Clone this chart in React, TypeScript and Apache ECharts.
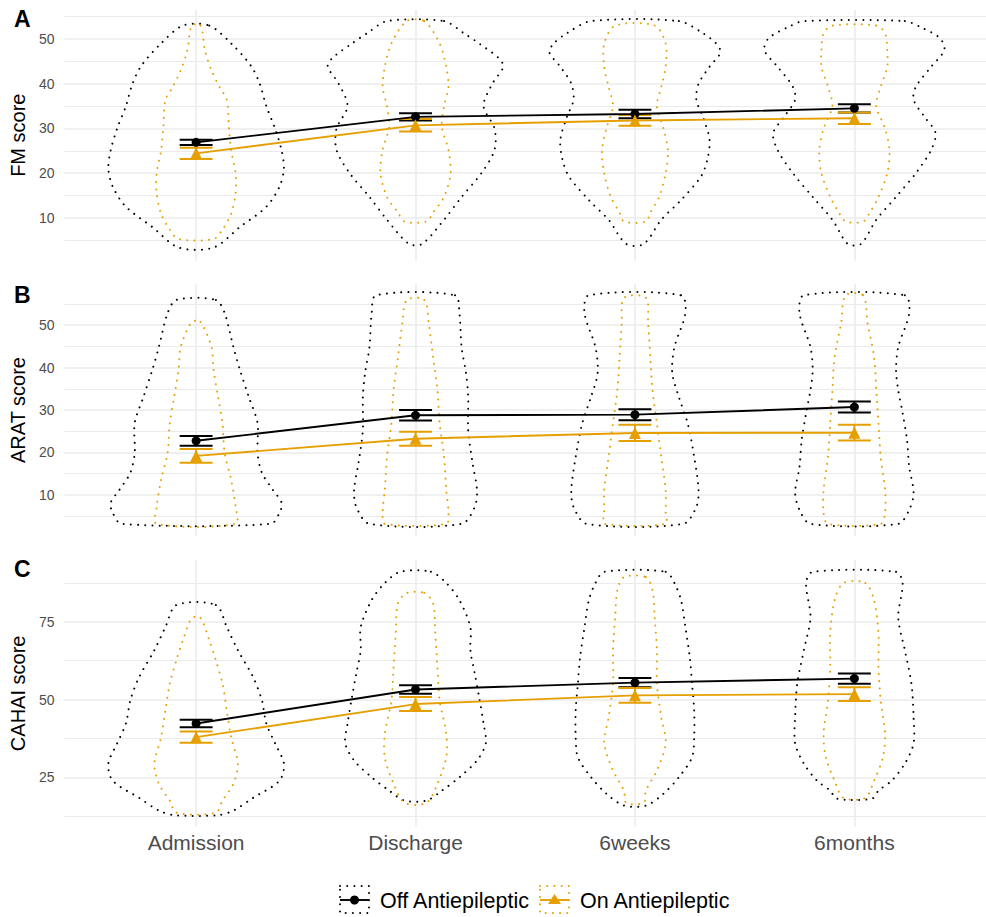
import React, { useEffect, useRef } from "react";
import * as echarts from "echarts";

// ---------- data ----------
const timepoints = ["Admission", "Discharge", "6weeks", "6months"];
const groupNames = ["Off Antiepileptic", "On Antiepileptic"];

// means and standard errors
const fmOffMean = [26.9, 32.6, 33.25, 34.5];
const fmOffSE = [0.6, 0.8, 0.95, 0.9];
const fmOnMean = [24.45, 30.7, 31.8, 32.3];
const fmOnSE = [1.25, 1.4, 1.2, 1.3];

const aratOffMean = [22.75, 28.75, 28.9, 30.7];
const aratOffSE = [1.15, 1.25, 1.3, 1.3];
const aratOnMean = [19.2, 23.25, 24.6, 24.65];
const aratOnSE = [1.6, 1.65, 1.9, 1.85];

const cahaiOffMean = [42.3, 53.25, 55.45, 56.75];
const cahaiOffSE = [1.2, 1.35, 1.45, 1.65];
const cahaiOnMean = [37.9, 48.55, 51.35, 51.75];
const cahaiOnSE = [1.8, 2.25, 2.35, 2.25];

// violin profiles: [score, half-width in category units], top to bottom
const fmViolinOff = [
  [[53, 0.06], [49, 0.16], [44, 0.25], [40, 0.29], [35, 0.32], [30, 0.36], [25, 0.39], [21, 0.4], [17, 0.38], [12.5, 0.32], [8, 0.2], [3.4, 0.08]],
  [[54, 0.13], [51.3, 0.22], [49, 0.29], [45.7, 0.38], [43.8, 0.4], [40, 0.35], [35, 0.31], [30, 0.36], [25.2, 0.36], [20, 0.3], [14.7, 0.21], [9.6, 0.13], [4.2, 0.03]],
  [[54, 0.2], [51.3, 0.31], [49, 0.37], [47, 0.39], [43.8, 0.34], [40, 0.29], [36.4, 0.28], [32.6, 0.31], [27.5, 0.34], [23, 0.33], [19.2, 0.3], [14, 0.21], [9.6, 0.12], [4.2, 0.04]],
  [[54, 0.23], [52.7, 0.3], [50.2, 0.39], [47.5, 0.41], [43.8, 0.35], [39.3, 0.28], [36.4, 0.27], [32.6, 0.32], [29, 0.37], [25.2, 0.35], [20, 0.28], [14.7, 0.19], [9.6, 0.1], [4.2, 0.03]],
];
const fmViolinOn = [
  [[53, 0.02], [47.5, 0.04], [43, 0.07], [39, 0.11], [36.4, 0.14], [30, 0.15], [25, 0.16], [20, 0.18], [15.6, 0.18], [11, 0.16], [7.4, 0.12], [5.3, 0.08]],
  [[54, 0.04], [49, 0.11], [43.8, 0.14], [39.3, 0.15], [35, 0.13], [30.4, 0.12], [25.2, 0.15], [20, 0.16], [14.7, 0.13], [11.2, 0.08], [9.2, 0.05]],
  [[53, 0.09], [49, 0.14], [43.8, 0.14], [39.3, 0.12], [35, 0.1], [30, 0.13], [25.2, 0.15], [20, 0.14], [14.7, 0.11], [11.2, 0.07], [9.2, 0.05]],
  [[53, 0.1], [51.3, 0.14], [47.5, 0.15], [43.8, 0.15], [39.3, 0.12], [35, 0.1], [30, 0.14], [25.2, 0.16], [20, 0.15], [14.7, 0.11], [11.2, 0.07], [9.2, 0.04]],
];

const aratViolinOff = [
  [[55.9, 0.09], [52.8, 0.13], [44.8, 0.17], [39.4, 0.2], [33.1, 0.24], [26.9, 0.28], [19.9, 0.28], [15.2, 0.3], [11.2, 0.35], [8.1, 0.39], [5.8, 0.38], [3.2, 0.34]],
  [[57, 0.18], [52.8, 0.2], [44.8, 0.21], [38.7, 0.23], [33.1, 0.24], [25.3, 0.24], [17.5, 0.26], [11.2, 0.28], [7.2, 0.27], [3.2, 0.21]],
  [[57, 0.21], [52.8, 0.23], [44.8, 0.18], [38.7, 0.17], [33.1, 0.2], [26.9, 0.24], [19, 0.27], [11.2, 0.29], [7.2, 0.28], [3.2, 0.22]],
  [[57, 0.23], [52.8, 0.25], [44.8, 0.2], [39.4, 0.19], [34.7, 0.2], [29.3, 0.22], [23, 0.24], [16.6, 0.25], [10.5, 0.27], [6.5, 0.25], [3.2, 0.2]],
];
const aratViolinOn = [
  [[50.7, 0.02], [44.8, 0.07], [39.4, 0.08], [33.1, 0.1], [26.9, 0.12], [19.9, 0.13], [13.5, 0.16], [7.2, 0.18], [3.2, 0.18]],
  [[55.9, 0.04], [50.5, 0.06], [42.5, 0.08], [34.7, 0.1], [26.9, 0.11], [19, 0.13], [11.2, 0.14], [5.8, 0.15], [3.2, 0.14]],
  [[56.4, 0.05], [50.5, 0.06], [42.5, 0.07], [34.7, 0.08], [26.9, 0.1], [19, 0.12], [11.2, 0.14], [5.8, 0.14], [3.2, 0.14]],
  [[57, 0.04], [50.5, 0.06], [42.5, 0.09], [34.7, 0.1], [26.9, 0.11], [19, 0.12], [11.2, 0.14], [5.8, 0.14], [3.2, 0.12]],
];

const cahaiViolinOff = [
  [[80.4, 0.09], [73.3, 0.14], [65.9, 0.19], [57.2, 0.26], [49.7, 0.3], [42.3, 0.32], [35.9, 0.36], [29.4, 0.4], [23.9, 0.38], [18.4, 0.26], [14.3, 0.17], [12.8, 0.1]],
  [[91.1, 0.07], [87.5, 0.14], [82, 0.2], [73.3, 0.25], [65.9, 0.25], [58.4, 0.27], [50.7, 0.29], [42.3, 0.31], [35.9, 0.32], [30.4, 0.28], [25, 0.2], [20.7, 0.12], [17.5, 0.05]],
  [[91.1, 0.14], [87.5, 0.18], [82, 0.21], [73.3, 0.23], [63.6, 0.25], [55.2, 0.26], [46.5, 0.27], [37.8, 0.27], [31.4, 0.26], [25, 0.2], [19.7, 0.13], [15.9, 0.05]],
  [[91.1, 0.19], [87.5, 0.22], [76.5, 0.2], [65.9, 0.23], [55.2, 0.26], [44.3, 0.27], [35.9, 0.27], [29.4, 0.23], [23.9, 0.17], [20.7, 0.11], [18.1, 0.08]],
];
const cahaiViolinOn = [
  [[76.2, 0.02], [69.1, 0.06], [62.6, 0.09], [55.2, 0.12], [46.5, 0.14], [37.8, 0.16], [29.4, 0.19], [22.9, 0.17], [17.5, 0.12], [13.6, 0.09]],
  [[84.3, 0.04], [81, 0.08], [71.3, 0.09], [60.4, 0.1], [49.7, 0.11], [39, 0.14], [31.4, 0.14], [22.9, 0.1], [16.8, 0.05]],
  [[89.4, 0.05], [85.2, 0.08], [76.5, 0.09], [65.9, 0.1], [55.2, 0.1], [44.3, 0.12], [35.9, 0.14], [27.2, 0.1], [20.7, 0.05], [16.8, 0.04]],
  [[87.5, 0.05], [82, 0.09], [71.3, 0.11], [60.4, 0.11], [49.7, 0.12], [39, 0.14], [31.4, 0.13], [23.9, 0.09], [18.4, 0.05]],
];

// axis ticks
const fmTicks = [10, 20, 30, 40, 50];
const fmMinorTicks = [5, 15, 25, 35, 45, 55];
const aratTicks = [10, 20, 30, 40, 50];
const aratMinorTicks = [5, 15, 25, 35, 45, 55];
const cahaiTicks = [25, 50, 75];
const cahaiMinorTicks = [12.5, 37.5, 62.5, 87.5];

// ---------- styling / layout ----------
const FONT = "'Liberation Sans', Arial, Helvetica, sans-serif";
const OFF_COLOR = "#000000";
const ON_COLOR = "#E69F00";
const GRID_COLOR = "#ebebeb";
const CAP_HALF = 0.075;

const panels = [
  {
    tag: "A", title: "FM score", top: 9.7, height: 251, min: 0.45, max: 56.55,
    ticks: fmTicks, minor: fmMinorTicks,
    violins: [fmViolinOff, fmViolinOn],
    means: [fmOffMean, fmOnMean], se: [fmOffSE, fmOnSE], tagY: 18.5,
  },
  {
    tag: "B", title: "ARAT score", top: 283.8, height: 252.4, min: 0.3, max: 59.7,
    ticks: aratTicks, minor: aratMinorTicks,
    violins: [aratViolinOff, aratViolinOn],
    means: [aratOffMean, aratOnMean], se: [aratOffSE, aratOnSE], tagY: 294.5,
  },
  {
    tag: "C", title: "CAHAI score", top: 560, height: 266.7, min: 9.1, max: 94.9,
    ticks: cahaiTicks, minor: cahaiMinorTicks,
    violins: [cahaiViolinOff, cahaiViolinOn],
    means: [cahaiOffMean, cahaiOnMean], se: [cahaiOffSE, cahaiOnSE], tagY: 568.5,
  },
];

const colors = [OFF_COLOR, ON_COLOR];
const xPositions = [1, 2, 3, 4];

function dotted(color: string) {
  return {
    fill: "none",
    stroke: color,
    lineWidth: 2,
    lineDash: [0.01, 7.2],
    lineCap: "round",
  };
}

function buildOption() {
  const grid: any[] = [];
  const xAxis: any[] = [];
  const yAxis: any[] = [];
  const series: any[] = [];

  panels.forEach((p, pi) => {
    grid.push({ left: 63, width: 932, top: p.top, height: p.height });
    xAxis.push({
      gridIndex: pi,
      type: "value",
      min: 0.4,
      max: 4.6,
      axisLine: { show: false },
      axisTick: { show: false, customValues: xPositions },
      axisLabel:
        pi === 2
          ? {
              show: true,
              customValues: xPositions,
              formatter: (v: number) => timepoints[Math.round(v) - 1] ?? "",
              fontSize: 21,
              color: "#4d4d4d",
              fontFamily: FONT,
              margin: 5,
            }
          : { show: false },
      splitLine: { show: true, lineStyle: { color: GRID_COLOR, width: 1.6 } },
    });
    yAxis.push({
      gridIndex: pi,
      type: "value",
      position: "left",
      min: p.min,
      max: p.max,
      axisLine: { show: false },
      axisTick: { show: false, customValues: p.ticks },
      axisLabel: {
        customValues: p.ticks,
        fontSize: 14,
        color: "#4d4d4d",
        fontFamily: FONT,
        margin: 10,
      },
      splitLine: { show: true, lineStyle: { color: GRID_COLOR, width: 1.6 } },
      name: p.title,
      nameLocation: "middle",
      nameGap: 29,
      nameRotate: 90,
      nameTextStyle: { fontSize: 20, color: "#000", fontFamily: FONT },
    });
    yAxis.push({
      gridIndex: pi,
      type: "value",
      position: "right",
      min: p.min,
      max: p.max,
      axisLine: { show: false },
      axisTick: { show: false, customValues: p.minor },
      axisLabel: { show: false },
      splitLine: { show: true, lineStyle: { color: GRID_COLOR, width: 1 } },
    });

    const yIdx = pi * 2;

    // violins
    [0, 1].forEach((gi) => {
      const profiles = p.violins[gi];
      series.push({
        type: "custom",
        name: groupNames[gi],
        xAxisIndex: pi,
        yAxisIndex: yIdx,
        silent: true,
        z: 2,
        data: profiles.map((prof: number[][], i: number) => [xPositions[i], prof[0][0]]),
        renderItem: (params: any, api: any) => {
          const i = params.dataIndex;
          const x = xPositions[i];
          const prof = profiles[i];
          const pts: number[][] = [];
          for (let k = 0; k < prof.length; k++) pts.push(api.coord([x + prof[k][1], prof[k][0]]));
          for (let k = prof.length - 1; k >= 0; k--) pts.push(api.coord([x - prof[k][1], prof[k][0]]));
          return {
            type: "polygon",
            shape: { points: pts, smooth: 0.3 },
            style: dotted(colors[gi]),
          };
        },
      });
    });

    // error bars
    [0, 1].forEach((gi) => {
      const m = p.means[gi];
      const s = p.se[gi];
      series.push({
        type: "custom",
        xAxisIndex: pi,
        yAxisIndex: yIdx,
        silent: true,
        z: 4,
        data: m.map((v: number, i: number) => [xPositions[i], v - s[i], v + s[i]]),
        renderItem: (params: any, api: any) => {
          const x = api.value(0);
          const lo = api.value(1);
          const hi = api.value(2);
          const a = api.coord([x, lo]);
          const b = api.coord([x, hi]);
          const l1 = api.coord([x - CAP_HALF, lo]);
          const r1 = api.coord([x + CAP_HALF, lo]);
          const l2 = api.coord([x - CAP_HALF, hi]);
          const r2 = api.coord([x + CAP_HALF, hi]);
          const st = { stroke: colors[gi], lineWidth: 2 };
          return {
            type: "group",
            children: [
              { type: "line", shape: { x1: a[0], y1: a[1], x2: b[0], y2: b[1] }, style: st },
              { type: "line", shape: { x1: l1[0], y1: l1[1], x2: r1[0], y2: r1[1] }, style: st },
              { type: "line", shape: { x1: l2[0], y1: l2[1], x2: r2[0], y2: r2[1] }, style: st },
            ],
          };
        },
      });
    });

    // mean lines
    [0, 1].forEach((gi) => {
      series.push({
        type: "line",
        xAxisIndex: pi,
        yAxisIndex: yIdx,
        silent: true,
        z: 5,
        data: p.means[gi].map((v: number, i: number) => [xPositions[i], v]),
        symbol: gi === 0 ? "circle" : "triangle",
        symbolSize: gi === 0 ? 9 : 12,
        showSymbol: true,
        itemStyle: { color: colors[gi] },
        lineStyle: { color: colors[gi], width: 1.9 },
      });
    });
  });

  const graphic: any[] = [];
  panels.forEach((p) => {
    graphic.push({
      type: "text",
      x: 14,
      y: p.tagY,
      style: {
        text: p.tag,
        font: `bold 23px ${FONT}`,
        fill: "#000",
        verticalAlign: "middle",
        textVerticalAlign: "middle",
      },
    });
  });

  // legend keys
  const legendItems = [
    { x: 340, color: OFF_COLOR, label: groupNames[0], tri: false },
    { x: 540, color: ON_COLOR, label: groupNames[1], tri: true },
  ];
  legendItems.forEach((it) => {
    graphic.push({
      type: "rect",
      shape: { x: it.x, y: 886, width: 29, height: 27 },
      style: dotted(it.color),
    });
    graphic.push({
      type: "line",
      shape: { x1: it.x, y1: 900, x2: it.x + 29, y2: 900 },
      style: { stroke: it.color, lineWidth: 1.9 },
    });
    if (it.tri) {
      graphic.push({
        type: "polygon",
        shape: { points: [[it.x + 14.5, 894], [it.x + 21, 904], [it.x + 8, 904]] },
        style: { fill: it.color },
      });
    } else {
      graphic.push({
        type: "circle",
        shape: { cx: it.x + 14.5, cy: 900, r: 4.5 },
        style: { fill: it.color },
      });
    }
    graphic.push({
      type: "text",
      x: it.x + 40,
      y: 900.5,
      style: {
        text: it.label,
        font: `21.5px ${FONT}`,
        fill: "#000",
        verticalAlign: "middle",
        textVerticalAlign: "middle",
      },
    });
  });

  return {
    animation: false,
    backgroundColor: "#ffffff",
    textStyle: { fontFamily: FONT },
    grid,
    xAxis,
    yAxis,
    series,
    graphic,
  };
}

export default function App() {
  const ref = useRef<HTMLDivElement>(null);
  useEffect(() => {
    const chart = echarts.init(ref.current as HTMLDivElement, null, { renderer: "svg" });
    chart.setOption(buildOption() as any);
    return () => {
      chart.dispose();
    };
  }, []);
  return (
    <div
      ref={ref}
      style={{ position: "absolute", left: 0, top: 0, width: 986, height: 917, background: "#fff" }}
    />
  );
}
